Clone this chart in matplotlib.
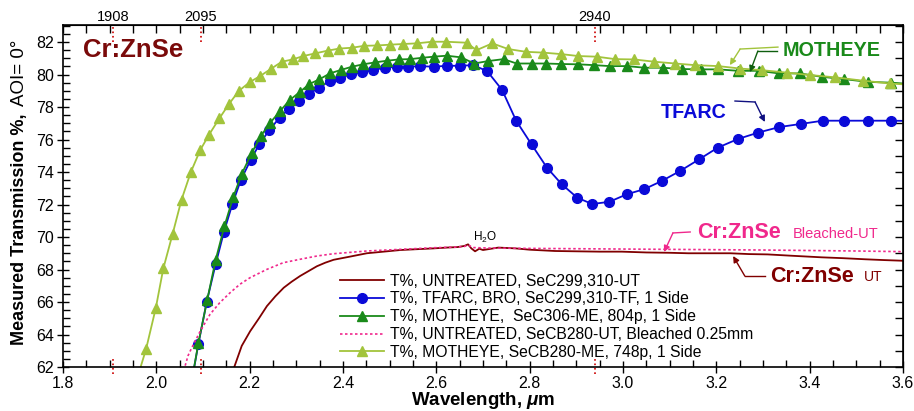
import numpy as np
import matplotlib
matplotlib.use("Agg")
import matplotlib.pyplot as plt
from matplotlib.ticker import MultipleLocator, FormatStrFormatter

plt.rcParams["font.family"] = ["Liberation Sans", "DejaVu Sans"]
plt.rcParams["mathtext.fontset"] = "custom"
plt.rcParams["mathtext.rm"] = "Liberation Sans"
plt.rcParams["mathtext.it"] = "Liberation Sans:italic:bold"
plt.rcParams["mathtext.bf"] = "Liberation Sans:bold"

# данные (длина волны, мкм / пропускание, %)
x_ut = [2.160, 2.167, 2.183, 2.201, 2.220, 2.237, 2.255, 2.273, 2.290, 2.308, 2.326, 2.344,
        2.362, 2.380, 2.416, 2.451, 2.487, 2.523, 2.558, 2.594, 2.622, 2.645, 2.660, 2.668,
        2.675, 2.683, 2.692, 2.700, 2.733, 2.770, 2.800, 2.854, 2.900, 2.950, 2.997, 3.050,
        3.100, 3.140, 3.190, 3.230, 3.270, 3.310, 3.360, 3.426, 3.470, 3.519, 3.560, 3.600]
t_ut = [61.6, 62.0, 63.3, 64.2, 65.0, 65.75, 66.35, 66.88, 67.25, 67.6, 67.9, 68.2,
        68.42, 68.6, 68.8, 69.0, 69.1, 69.2, 69.25, 69.3, 69.35, 69.38, 69.45, 69.55,
        69.3, 69.12, 69.28, 69.2, 69.35, 69.3, 69.22, 69.14, 69.12, 69.1, 69.1, 69.05,
        69.03, 69.0, 69.0, 69.0, 68.95, 68.93, 68.85, 68.75, 68.7, 68.63, 68.58, 68.54]

x_tf = [2.075, 2.090, 2.108, 2.127, 2.145, 2.163, 2.181, 2.202, 2.221, 2.242, 2.264, 2.285,
        2.306, 2.328, 2.349, 2.372, 2.394, 2.417, 2.440, 2.464, 2.490, 2.515, 2.540, 2.566,
        2.594, 2.622, 2.651, 2.679, 2.709, 2.741, 2.771, 2.804, 2.837, 2.869, 2.902, 2.934,
        2.971, 3.008, 3.046, 3.083, 3.122, 3.163, 3.203, 3.246, 3.290, 3.335, 3.381, 3.428,
        3.474, 3.524, 3.575, 3.600]
t_tf = [61.0, 63.4, 66.02, 68.32, 70.33, 72.03, 73.5, 74.74, 75.72, 76.58, 77.34, 77.91,
        78.38, 78.83, 79.2, 79.6, 79.8, 80.03, 80.17, 80.28, 80.42, 80.48, 80.48, 80.52,
        80.48, 80.54, 80.54, 80.58, 80.21, 79.05, 77.16, 75.7, 74.27, 73.24, 72.42, 72.03,
        72.17, 72.63, 72.95, 73.45, 74.06, 74.78, 75.5, 76.03, 76.43, 76.77, 76.96, 77.16,
        77.16, 77.16, 77.16, 77.15]

x_me = [2.075, 2.090, 2.109, 2.127, 2.146, 2.165, 2.183, 2.204, 2.224, 2.244, 2.265, 2.286,
        2.308, 2.328, 2.349, 2.372, 2.395, 2.419, 2.443, 2.469, 2.494, 2.519, 2.544, 2.569,
        2.594, 2.622, 2.653, 2.681, 2.711, 2.744, 2.772, 2.804, 2.834, 2.867, 2.904, 2.938,
        2.972, 3.009, 3.046, 3.085, 3.126, 3.167, 3.204, 3.247, 3.291, 3.334, 3.379, 3.426,
        3.474, 3.524, 3.575, 3.600]
t_me = [61.0, 63.46, 66.12, 68.58, 70.68, 72.48, 73.88, 75.15, 76.22, 77.03, 77.75, 78.43,
        78.94, 79.42, 79.7, 80.07, 80.28, 80.48, 80.63, 80.75, 80.85, 80.93, 80.95, 81.03,
        81.1, 81.16, 81.06, 80.68, 80.83, 80.95, 80.68, 80.68, 80.68, 80.65, 80.63, 80.58,
        80.52, 80.52, 80.42, 80.42, 80.34, 80.32, 80.32, 80.23, 80.23, 80.07, 80.07, 79.86,
        79.72, 79.55, 79.5, 79.45]

x_bl = [2.055, 2.061, 2.068, 2.076, 2.094, 2.115, 2.136, 2.158, 2.179, 2.201, 2.237, 2.272,
        2.308, 2.344, 2.379, 2.451, 2.522, 2.594, 2.640, 2.660, 2.668, 2.680, 2.711, 2.800,
        2.900, 3.000, 3.100, 3.200, 3.300, 3.400, 3.500, 3.600]
t_bl = [61.5, 62.0, 62.7, 63.19, 64.2, 65.24, 65.96, 66.57, 67.09, 67.5, 68.01, 68.42,
        68.63, 68.83, 68.97, 69.14, 69.24, 69.34, 69.38, 69.42, 69.5, 69.35, 69.32, 69.3,
        69.28, 69.26, 69.24, 69.22, 69.2, 69.17, 69.14, 69.1]

x_me2 = [1.960, 1.978, 1.999, 2.015, 2.035, 2.054, 2.074, 2.094, 2.113, 2.135, 2.156, 2.177,
         2.201, 2.222, 2.245, 2.269, 2.292, 2.315, 2.340, 2.367, 2.392, 2.419, 2.446, 2.473,
         2.501, 2.529, 2.558, 2.591, 2.621, 2.665, 2.686, 2.720, 2.754, 2.792, 2.829, 2.867,
         2.904, 2.944, 2.983, 3.024, 3.067, 3.112, 3.154, 3.204, 3.251, 3.297, 3.351, 3.401,
         3.454, 3.515, 3.572, 3.600]
t_me2 = [61.4, 63.1, 65.65, 68.07, 70.2, 72.3, 74.0, 75.35, 76.3, 77.3, 78.2, 79.0,
         79.55, 79.9, 80.34, 80.79, 80.93, 81.14, 81.3, 81.47, 81.6, 81.65, 81.77, 81.79,
         81.84, 81.88, 81.92, 82.02, 82.02, 81.96, 81.5, 81.92, 81.57, 81.4, 81.35, 81.26,
         81.14, 81.1, 80.95, 80.93, 80.79, 80.68, 80.58, 80.52, 80.37, 80.27, 80.12, 79.97,
         79.83, 79.62, 79.45, 79.4]

labels = ["T%, UNTREATED, SeC299,310-UT",
          "T%, TFARC, BRO, SeC299,310-TF, 1 Side",
          "T%, MOTHEYE,  SeC306-ME, 804p, 1 Side",
          "T%, UNTREATED, SeCB280-UT, Bleached 0.25mm",
          "T%, MOTHEYE, SeCB280-ME, 748p, 1 Side"]

# отметки длин волн лазеров, нм (верхняя ось)
top_ticks = [1.908, 2.095, 2.940]
top_labels = ["1908", "2095", "2940"]

C_UT = "#800000"
C_TF = "#0a0ad8"
C_ME = "#1a8a1a"
C_BL = "#f0288c"
C_ME2 = "#a2c43c"

fig = plt.figure(figsize=(9.14, 4.11), dpi=100)
ax = fig.add_axes([63 / 914, 44 / 411, 840 / 914, 342 / 411])

ax.plot(x_ut, t_ut, color=C_UT, lw=1.3, label=labels[0])
ax.plot(x_tf, t_tf, color=C_TF, lw=1.3, marker="o", ms=7, markevery=slice(1, -1), label=labels[1])
ax.plot(x_me, t_me, color=C_ME, lw=1.3, marker="^", ms=7.5, markevery=slice(1, -1), label=labels[2])
ax.plot(x_bl, t_bl, color=C_BL, lw=1.2, ls=(0, (1.5, 1.5)), label=labels[3])
ax.plot(x_me2, t_me2, color=C_ME2, lw=1.3, marker="^", ms=7.5, markevery=slice(1, -1), label=labels[4])

ax.set_xlim(1.8, 3.6)
ax.set_ylim(62, 83.05)
ax.xaxis.set_major_locator(MultipleLocator(0.2))
ax.xaxis.set_minor_locator(MultipleLocator(0.05))
ax.xaxis.set_major_formatter(FormatStrFormatter("%.1f"))
ax.yaxis.set_major_locator(MultipleLocator(2))
ax.yaxis.set_minor_locator(MultipleLocator(0.5))
ax.tick_params(which="major", direction="inout", length=9, width=1, labelsize=11.5, pad=2)
ax.tick_params(which="minor", direction="in", length=5, width=1)
for s in ax.spines.values():
    s.set_linewidth(1.2)

# верхняя ось - метки длин волн и шкала без подписей
sec = ax.secondary_xaxis("top")
sec.set_xticks(top_ticks, top_labels)
sec.xaxis.set_minor_locator(MultipleLocator(0.05))
sec.tick_params(which="major", length=0, labelsize=10.5, pad=0.5)
sec.tick_params(which="minor", direction="in", length=6, width=1)
secy = ax.secondary_yaxis("right")
secy.yaxis.set_major_locator(MultipleLocator(1))
secy.set_yticklabels([])
secy.tick_params(which="major", direction="in", length=6, width=1)

tr = ax.get_xaxis_transform()
ax.vlines(top_ticks, 0.95, 1.0, transform=tr, colors="#cc0000", linestyles=":", lw=1.2, clip_on=False)
ax.vlines(top_ticks, -0.02, 0.026, transform=tr, colors="#cc0000", linestyles=":", lw=1.2, clip_on=False)

ax.set_xlabel(r"Wavelength, $\mathit{\mu}$m", fontsize=13.5, fontweight="bold", labelpad=-1)

ax.legend(loc="upper left", bbox_to_anchor=(0.33, 0.273), frameon=False, fontsize=11.3,
          handlelength=2.8, handletextpad=0.35, labelspacing=0.18, borderpad=0, borderaxespad=0)

# подписи на поле графика
ax.text(1.843, 81.5, "Cr:ZnSe", color="#7a0a0a", fontsize=18.5, fontweight="bold", va="center")
ax.text(3.341, 81.5, "MOTHEYE", color=C_ME, fontsize=14.2, fontweight="bold", va="center")
ax.text(3.081, 77.69, "TFARC", color=C_TF, fontsize=14.2, fontweight="bold", va="center")
ax.text(3.159, 70.25, "Cr:ZnSe", color=C_BL, fontsize=15.5, fontweight="bold", va="center")
ax.text(3.364, 70.18, "Bleached-UT", color=C_BL, fontsize=10.5, va="center")
ax.text(3.315, 67.6, "Cr:ZnSe", color=C_UT, fontsize=15.5, fontweight="bold", va="center")
ax.text(3.516, 67.54, "UT", color=C_UT, fontsize=10, va="center")
ax.text(2.704, 70.0, "H$_2$O", fontsize=8.5, ha="center", va="center")


def pointer(p0, p1, tip, color):
    ax.plot([p0[0], p1[0]], [p0[1], p1[1]], color=color, lw=1)
    ax.annotate("", xy=tip, xytext=p1,
                arrowprops=dict(arrowstyle="-|>", color=color, lw=1, mutation_scale=9,
                                shrinkA=0, shrinkB=0))


pointer((3.332, 81.69), (3.251, 81.57), (3.229, 80.58), C_ME2)
pointer((3.330, 81.45), (3.289, 81.45), (3.272, 80.15), "#0e5e0e")
pointer((3.240, 78.37), (3.283, 78.31), (3.304, 77.08), "#101080")
pointer((3.144, 70.31), (3.107, 70.25), (3.088, 69.08), C_BL)
pointer((3.304, 67.60), (3.261, 67.60), (3.236, 68.83), C_UT)

# подпись оси y: жирная часть + обычная
fig.canvas.draw()
r = fig.canvas.get_renderer()
t1 = fig.text(0.021, 0.16, "Measured Transmission %,", rotation=90, fontsize=13,
              fontweight="bold", ha="center", va="bottom")
bb = t1.get_window_extent(r)
fig.text(0.021, (bb.y1 + 8) / fig.bbox.height, "AOI= 0°", rotation=90, fontsize=13.5,
         ha="center", va="bottom")

fig.savefig("out.png", dpi=100)
